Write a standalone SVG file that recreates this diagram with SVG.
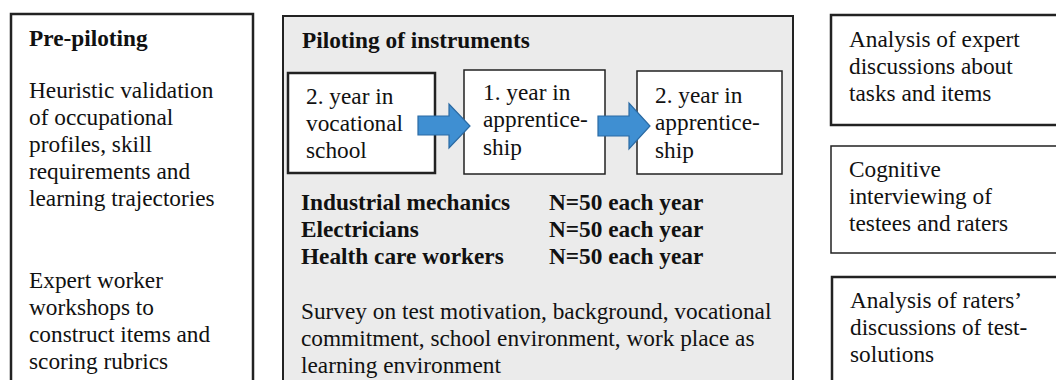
<svg xmlns="http://www.w3.org/2000/svg" width="1056" height="380" viewBox="0 0 1056 380">
<style>
text{font-family:"Liberation Serif","Times New Roman",serif;font-size:23.3px;fill:#111}
.b{font-weight:bold}
.box{fill:#fff;stroke:#222;stroke-width:1.5}
.thick{stroke-width:2.5}
.panel{fill:#ebebeb;stroke:#222;stroke-width:2}
.arrow{fill:#3f8fd2;stroke:#2b6aa3;stroke-width:1.2}
</style>
<rect width="1056" height="380" fill="#fff"/>
<g font-family="Liberation Serif, serif" font-size="23.3">
<g id="pre-piloting">
<rect class="box thick" x="11" y="14" width="242" height="380"/>
<text class="b" x="29" y="46">Pre-piloting</text>
<text x="29" y="98">Heuristic validation</text>
<text x="29" y="125">of occupational</text>
<text x="29" y="152">profiles, skill</text>
<text x="29" y="179">requirements and</text>
<text x="29" y="206">learning trajectories</text>
<text x="29" y="288">Expert worker</text>
<text x="29" y="315">workshops to</text>
<text x="29" y="342">construct items and</text>
<text x="29" y="369">scoring rubrics</text>
</g>
<g id="piloting">
<rect class="panel" x="283" y="16" width="510" height="380"/>
<text class="b" x="302" y="48">Piloting of instruments</text>
<text class="b" x="301" y="210">Industrial mechanics</text>
<text class="b" x="301" y="237">Electricians</text>
<text class="b" x="301" y="264">Health care workers</text>
<text class="b" x="549" y="210">N=50 each year</text>
<text class="b" x="549" y="237">N=50 each year</text>
<text class="b" x="549" y="264">N=50 each year</text>
<text x="301" y="319">Survey on test motivation, background, vocational</text>
<text x="301" y="346">commitment, school environment, work place as</text>
<text x="301" y="373">learning environment</text>
</g>
<g id="year-vocational">
<rect class="box thick" x="288" y="73" width="147" height="100"/>
<text x="306" y="104">2. year in</text>
<text x="306" y="131">vocational</text>
<text x="306" y="158">school</text>
</g>
<g id="year1-apprenticeship">
<rect class="box" x="464" y="70" width="141" height="104"/>
<text x="483" y="100">1. year in</text>
<text x="483" y="127">apprentice-</text>
<text x="483" y="155">ship</text>
</g>
<g id="year2-apprenticeship">
<rect class="box" x="637" y="71" width="145" height="103"/>
<text x="655" y="103">2. year in</text>
<text x="655" y="130">apprentice-</text>
<text x="655" y="158">ship</text>
</g>
<g id="connectors">
<path class="arrow" d="M418,116 H449 V104 L470,126 L449,148 V135 H418 Z"/>
<path class="arrow" d="M598,116 H629 V103 L650,126 L629,149 V136 H598 Z"/>
</g>
<g id="analysis-expert">
<rect class="box thick" x="831" y="15" width="240" height="110"/>
<text x="849" y="47">Analysis of expert</text>
<text x="849" y="74">discussions about</text>
<text x="849" y="101">tasks and items</text>
</g>
<g id="cognitive-interviewing">
<rect class="box" x="831" y="146" width="240" height="107"/>
<text x="849" y="177">Cognitive</text>
<text x="849" y="204">interviewing of</text>
<text x="849" y="231">testees and raters</text>
</g>
<g id="analysis-raters">
<rect class="box thick" x="832" y="277" width="240" height="120"/>
<text x="850" y="308">Analysis of raters’</text>
<text x="850" y="335">discussions of test-</text>
<text x="850" y="362">solutions</text>
</g>
</g>
</svg>
